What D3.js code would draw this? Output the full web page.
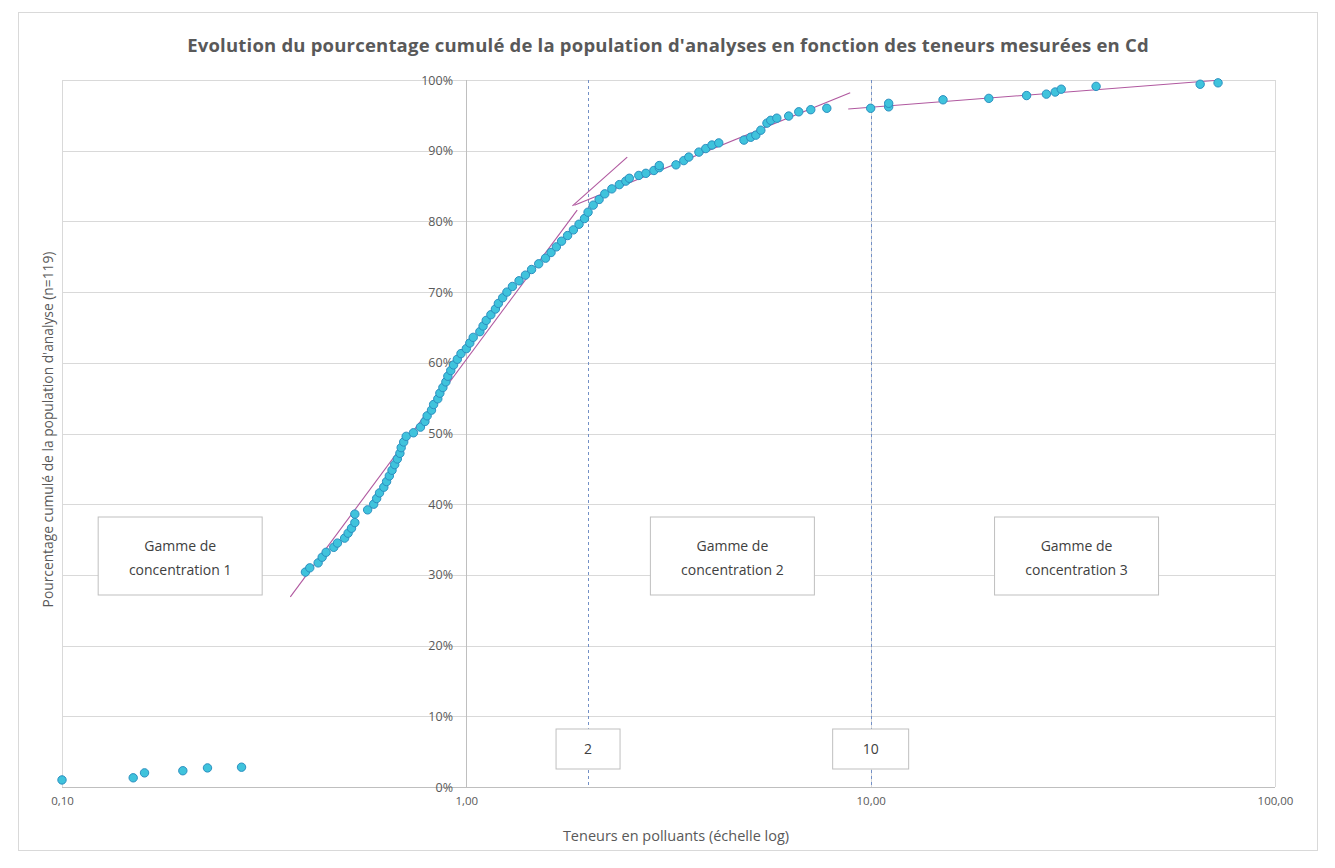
<!DOCTYPE html>
<html lang="fr">
<head>
<meta charset="utf-8">
<script src="https://cdn.jsdelivr.net/npm/d3@7"></script>
<style>
  html, body { margin: 0; padding: 0; background: #ffffff; }
  svg { display: block; font-family: "Open Sans", "Liberation Sans", sans-serif; }
</style>
</head>
<body>
<svg id="chart" width="1335" height="868"></svg>
<script>
// Teneurs mesurées en Cd (mg/kg) et pourcentage cumulé correspondant
const teneurs = [
  0.10, 0.150, 0.160, 0.199, 0.229, 0.278,
  0.40, 0.41, 0.43, 0.44, 0.45, 0.47, 0.48, 0.50, 0.51, 0.52, 0.53, 0.53,
  0.57, 0.59, 0.60, 0.61, 0.625, 0.635, 0.645, 0.655, 0.665, 0.675, 0.685, 0.69, 0.70, 0.71,
  0.74, 0.77, 0.79, 0.80, 0.82, 0.83, 0.85, 0.86, 0.875, 0.89, 0.90, 0.915, 0.93, 0.95, 0.97, 1.00,
  1.02, 1.04, 1.08, 1.10, 1.12, 1.15, 1.18, 1.20, 1.23, 1.26, 1.30, 1.35, 1.40, 1.45, 1.51, 1.57,
  1.62, 1.67, 1.72, 1.78, 1.84, 1.90, 1.96, 2.00, 2.06,
  2.13, 2.20, 2.29, 2.39, 2.48, 2.53, 2.67, 2.78, 2.91, 3.00, 3.00, 3.30, 3.45, 3.55, 3.76, 3.91, 4.05, 4.21,
  4.86, 5.05, 5.20, 5.35, 5.54, 5.66, 5.86, 6.27, 6.64, 7.11, 7.79,
  10.0, 11.08, 11.08, 15.1, 19.6, 24.3, 27.2, 28.6, 29.6, 36.1, 65.3, 72.3
];
const pourcentages = [
  1.0, 1.3, 2.0, 2.3, 2.7, 2.8,
  30.4, 31.0, 31.7, 32.5, 33.2, 33.9, 34.5, 35.2, 35.9, 36.6, 37.4, 38.6,
  39.2, 40.0, 40.8, 41.6, 42.4, 43.2, 44.0, 44.8, 45.6, 46.4, 47.2, 48.0, 48.8, 49.6,
  50.1, 50.9, 51.7, 52.5, 53.3, 54.1, 54.9, 55.7, 56.5, 57.3, 58.1, 58.9, 59.7, 60.5, 61.3, 62.0,
  62.8, 63.6, 64.4, 65.2, 66.0, 66.8, 67.6, 68.4, 69.2, 70.0, 70.8, 71.6, 72.4, 73.2, 74.0, 74.8,
  75.6, 76.4, 77.2, 78.0, 78.8, 79.6, 80.4, 81.3, 82.3,
  83.1, 83.9, 84.6, 85.2, 85.7, 86.1, 86.5, 86.8, 87.2, 87.6, 87.9, 88.0, 88.6, 89.1, 89.8, 90.3, 90.8, 91.1,
  91.5, 91.9, 92.2, 92.9, 93.9, 94.3, 94.6, 94.9, 95.5, 95.8, 96.0,
  96.0, 96.2, 96.7, 97.2, 97.4, 97.8, 98.0, 98.3, 98.7, 99.1, 99.4, 99.6
];

// Droites d'ajustement par gamme de concentration : [teneur début, % début, teneur fin, % fin]
const tendances = [
  [0.367, 26.9, 1.88, 81.6],
  [1.83, 82.2, 2.5, 89.1],
  [1.85, 82.3, 8.9, 98.2],
  [8.8, 95.9, 73.5, 100.0]
];

// Seuils de concentration (traits verticaux pointillés)
const seuils = [2, 10];

const graduationsX = [0.1, 1, 10, 100];
const graduationsY = [0, 10, 20, 30, 40, 50, 60, 70, 80, 90, 100];

// Encadrés des gammes : teneur au centre, lignes de texte
const gammes = [
  { centre: 0.196, lignes: ["Gamme de", "concentration 1"] },
  { centre: 4.55,  lignes: ["Gamme de", "concentration 2"] },
  { centre: 32.3,  lignes: ["Gamme de", "concentration 3"] }
];

const titre = "Evolution du pourcentage cumulé de la population d'analyses en fonction des teneurs mesurées en Cd";
const titreX = "Teneurs en polluants (échelle log)";
const titreY = "Pourcentage cumulé de la population d'analyse (n=119)";

const svg = d3.select("#chart");
const plot = { left: 62, right: 1275, top: 80, bottom: 787 };

const x = d3.scaleLog().domain([0.1, 100]).range([plot.left, plot.right]);
const y = d3.scaleLinear().domain([0, 100]).range([plot.bottom, plot.top]);

const fmtX = d => d3.format(".2f")(d).replace(".", ",");
const fmtY = d => d + "%";

// Cadre général
svg.append("rect")
  .attr("x", 18.5).attr("y", 12.5)
  .attr("width", 1299).attr("height", 838)
  .attr("fill", "#ffffff").attr("stroke", "#d9d9d9");

// Titre
svg.append("text")
  .attr("x", 668).attr("y", 52)
  .attr("text-anchor", "middle")
  .attr("font-size", 18.5)
  .attr("font-weight", 700)
  .attr("letter-spacing", 0.2)
  .attr("fill", "#595959")
  .text(titre);

// Quadrillage horizontal
svg.append("g")
  .selectAll("line")
  .data(graduationsY)
  .join("line")
  .attr("x1", plot.left).attr("x2", plot.right)
  .attr("y1", d => Math.round(y(d)) + 0.5).attr("y2", d => Math.round(y(d)) + 0.5)
  .attr("stroke", d => d === 0 ? "#bfbfbf" : "#d9d9d9");

// Quadrillage vertical (décades)
svg.append("g")
  .selectAll("line")
  .data(graduationsX)
  .join("line")
  .attr("x1", d => Math.round(x(d)) + 0.5).attr("x2", d => Math.round(x(d)) + 0.5)
  .attr("y1", plot.top).attr("y2", plot.bottom)
  .attr("stroke", d => d === 1 ? "#bfbfbf" : "#d9d9d9");

// Axe X (étiquettes)
const axeX = svg.append("g")
  .attr("transform", `translate(0,${plot.bottom})`)
  .call(d3.axisBottom(x).tickValues(graduationsX).tickFormat(fmtX).tickSize(0).tickPadding(10));
axeX.select(".domain").remove();
axeX.selectAll("text")
  .attr("font-family", "'Open Sans', sans-serif")
  .attr("font-size", 11.5)
  .attr("fill", "#595959");

// Axe Y placé à la teneur 1,00
const axeY = svg.append("g")
  .attr("transform", `translate(${Math.round(x(1))},0)`)
  .call(d3.axisLeft(y).tickValues(graduationsY).tickFormat(fmtY).tickSize(0).tickPadding(13));
axeY.select(".domain").remove();
axeY.selectAll("text")
  .attr("font-family", "'Open Sans', sans-serif")
  .attr("font-size", 12.5)
  .attr("fill", "#595959");

// Titres d'axes
svg.append("text")
  .attr("x", 676).attr("y", 841)
  .attr("text-anchor", "middle")
  .attr("font-size", 14.5)
  .attr("fill", "#595959")
  .text(titreX);

svg.append("text")
  .attr("transform", `translate(53,${(plot.top + plot.bottom) / 2 - 4}) rotate(-90)`)
  .attr("text-anchor", "middle")
  .attr("font-size", 13.8)
  .attr("fill", "#595959")
  .text(titreY);

// Seuils pointillés
svg.append("g")
  .selectAll("line")
  .data(seuils)
  .join("line")
  .attr("x1", d => Math.round(x(d)) + 0.5).attr("x2", d => Math.round(x(d)) + 0.5)
  .attr("y1", plot.top).attr("y2", plot.bottom)
  .attr("stroke", "#7390c6")
  .attr("stroke-width", 1)
  .attr("stroke-dasharray", "3,3");

// Encadrés des seuils
const boiteSeuil = svg.append("g")
  .selectAll("g")
  .data(seuils)
  .join("g")
  .attr("transform", d => `translate(${x(d)},749)`);
boiteSeuil.append("rect")
  .attr("x", d => d < 5 ? -32 : -38).attr("y", -20)
  .attr("width", d => d < 5 ? 64 : 76).attr("height", 40)
  .attr("fill", "#ffffff").attr("stroke", "#bfbfbf");
boiteSeuil.append("text")
  .attr("text-anchor", "middle").attr("dy", "0.35em")
  .attr("font-size", 14).attr("fill", "#404040")
  .text(d => d);

// Encadrés des gammes de concentration
const boiteGamme = svg.append("g")
  .selectAll("g")
  .data(gammes)
  .join("g")
  .attr("transform", d => `translate(${x(d.centre)},556)`);
boiteGamme.append("rect")
  .attr("x", -82).attr("y", -39)
  .attr("width", 164).attr("height", 78)
  .attr("fill", "#ffffff").attr("stroke", "#bfbfbf");
boiteGamme.append("text")
  .attr("text-anchor", "middle")
  .attr("font-size", 14).attr("fill", "#404040")
  .selectAll("tspan")
  .data(d => d.lignes)
  .join("tspan")
  .attr("x", 0)
  .attr("y", (d, i) => i === 0 ? -5 : 19)
  .text(d => d);

// Droites d'ajustement
svg.append("g")
  .selectAll("line")
  .data(tendances)
  .join("line")
  .attr("x1", d => x(d[0])).attr("y1", d => y(d[1]))
  .attr("x2", d => x(d[2])).attr("y2", d => y(d[3]))
  .attr("stroke", "#b0589f")
  .attr("stroke-width", 1.1);

// Points de mesure
svg.append("g")
  .selectAll("circle")
  .data(teneurs.map((t, i) => [t, pourcentages[i]]))
  .join("circle")
  .attr("cx", d => x(d[0]))
  .attr("cy", d => y(d[1]))
  .attr("r", 4.2)
  .attr("fill", "#3fc3dc")
  .attr("stroke", "#2b8fc0")
  .attr("stroke-width", 1);
</script>
</body>
</html>
